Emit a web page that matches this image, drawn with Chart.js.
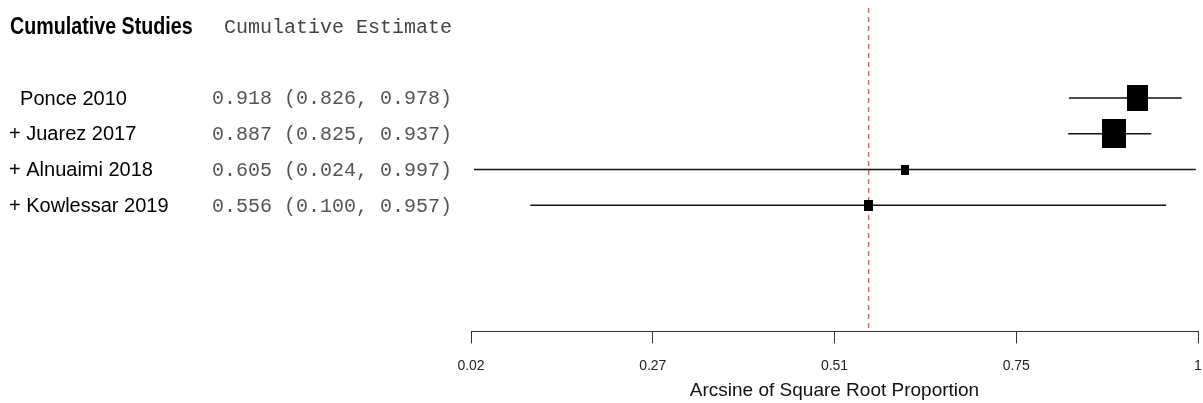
<!DOCTYPE html>
<html>
<head>
<meta charset="utf-8">
<script src="https://cdn.jsdelivr.net/npm/chart.js"></script>
<style>
  html, body { margin: 0; padding: 0; background: #fff; }
  #wrap { width: 1203px; height: 403px; }
</style>
</head>
<body>
<div id="wrap"><canvas id="forestCanvas"></canvas></div>
<script>
// cumulative meta-analysis data
var studies = ["  Ponce 2010", "+ Juarez 2017", "+ Alnuaimi 2018", "+ Kowlessar 2019"];
var estimates = [0.918, 0.887, 0.605, 0.556];
var lowers = [0.826, 0.825, 0.024, 0.100];
var uppers = [0.978, 0.937, 0.997, 0.957];
var weights = [0.88, 1.0, 0.34, 0.38];
var summaryEstimate = 0.556;
var tickValues = [0.02, 0.265, 0.51, 0.755, 1];
var tickLabels = ["0.02", "0.27", "0.51", "0.75", "1"];

var headerRow = -1;
var yMin = -1.523, yMax = 7.532;

function makeBox(w) {
  var c = document.createElement("canvas");
  c.width = Math.round(w);
  c.height = Math.round(w * 1.22);
  var g = c.getContext("2d");
  g.fillStyle = "#000";
  g.fillRect(0, 0, c.width, c.height);
  return c;
}

var datasets = [];

// boxes on top
datasets.push({
  type: "scatter",
  data: estimates.map(function (v, i) { return { x: v, y: i + 1 }; }),
  pointStyle: weights.map(function (w) { return makeBox(w * 24); }),
  order: 0
});

// confidence intervals
for (var i = 0; i < studies.length; i++) {
  datasets.push({
    type: "line",
    data: [{ x: lowers[i], y: i + 1 }, { x: uppers[i], y: i + 1 }],
    borderColor: "#111",
    borderWidth: 1.5,
    pointRadius: 0,
    order: 1
  });
}

// summary estimate
datasets.push({
  type: "line",
  data: [{ x: summaryEstimate, y: yMin }, { x: summaryEstimate, y: yMax }],
  borderColor: "rgba(225, 50, 50, 0.85)",
  borderWidth: 1.3,
  borderDash: [5, 4],
  pointRadius: 0,
  order: 2
});

var textColumns = {
  id: "textColumns",
  afterDraw: function (chart) {
    var ctx = chart.ctx;
    var y = chart.scales.y;
    ctx.save();
    ctx.textBaseline = "middle";
    ctx.textAlign = "left";

    var hy = y.getPixelForValue(headerRow) + 1;
    ctx.save();
    ctx.translate(10, hy);
    ctx.scale(0.82, 1);
    ctx.font = "bold 24px 'Liberation Sans', Arial, sans-serif";
    ctx.fillStyle = "#000";
    ctx.fillText("Cumulative Studies", 0, 0);
    ctx.restore();

    ctx.font = "20px 'Liberation Mono', 'Courier New', monospace";
    ctx.fillStyle = "#444";
    ctx.fillText("Cumulative Estimate", 224, hy);

    for (var i = 0; i < studies.length; i++) {
      var py = y.getPixelForValue(i + 1) + 1;
      ctx.font = "20px 'Liberation Sans', Arial, sans-serif";
      ctx.fillStyle = "#000";
      ctx.fillText(studies[i], 9, py);
      ctx.font = "20px 'Liberation Mono', 'Courier New', monospace";
      ctx.fillStyle = "#555";
      var txt = estimates[i].toFixed(3) + " (" + lowers[i].toFixed(3) + ", " + uppers[i].toFixed(3) + ")";
      ctx.fillText(txt, 212, py);
    }
    ctx.restore();
  }
};

var chart = new Chart(document.getElementById("forestCanvas"), {
  type: "scatter",
  data: { datasets: datasets },
  options: {
    responsive: true,
    maintainAspectRatio: false,
    animation: false,
    events: [],
    layout: { padding: { left: 471, right: 0, top: 8, bottom: 0 } },
    plugins: {
      legend: { display: false },
      tooltip: { enabled: false }
    },
    scales: {
      x: {
        type: "linear",
        position: "bottom",
        min: 0.02,
        max: 1,
        afterBuildTicks: function (scale) {
          scale.ticks = tickValues.map(function (v) { return { value: v }; });
        },
        afterFit: function (scale) {
          scale.paddingRight = 5;
        },
        ticks: {
          autoSkip: false,
          maxRotation: 0,
          padding: 14,
          color: "#222",
          font: { family: "'Liberation Sans', Arial, sans-serif", size: 14 },
          callback: function (value, index) { return tickLabels[index]; }
        },
        grid: {
          drawOnChartArea: false,
          drawTicks: true,
          tickLength: 12,
          color: "#333",
          lineWidth: 1
        },
        border: { display: true, color: "#333", width: 1 },
        title: {
          display: true,
          text: "Arcsine of Square Root Proportion",
          color: "#111",
          font: { family: "'Liberation Sans', Arial, sans-serif", size: 19 },
          padding: { top: -9, bottom: 1 }
        }
      },
      y: {
        type: "linear",
        display: false,
        reverse: true,
        min: yMin,
        max: yMax
      }
    }
  },
  plugins: [textColumns]
});
</script>
</body>
</html>
